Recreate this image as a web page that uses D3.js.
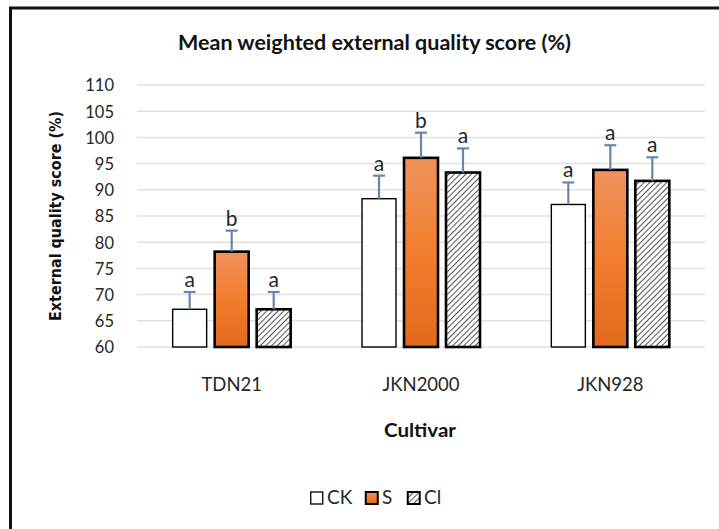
<!DOCTYPE html>
<html><head><meta charset="utf-8">
<script src="https://cdn.jsdelivr.net/npm/d3@7"></script>
<style>body{margin:0;background:#fff}svg{display:block}</style>
</head><body>
<svg id="c" width="719" height="529"></svg>
<script>
const cultivars = ["TDN21", "JKN2000", "JKN928"];
const seriesNames = ["CK", "S", "Cl"];
const ckValues = [67.2, 88.3, 87.2];
const sValues = [78.2, 96.1, 93.8];
const clValues = [67.2, 93.3, 91.7];
const ckErrors = [3.3, 4.4, 4.2];
const sErrors = [4.0, 4.8, 4.7];
const clErrors = [3.3, 4.6, 4.5];
const ckLetters = ["a", "a", "a"];
const sLetters = ["b", "b", "a"];
const clLetters = ["a", "a", "a"];
const yTicks = [60, 65, 70, 75, 80, 85, 90, 95, 100, 105, 110];

const rows = [];
cultivars.forEach((c, i) => {
  rows.push({c, s: "CK", v: ckValues[i], e: ckErrors[i], l: ckLetters[i]});
  rows.push({c, s: "S", v: sValues[i], e: sErrors[i], l: sLetters[i]});
  rows.push({c, s: "Cl", v: clValues[i], e: clErrors[i], l: clLetters[i]});
});

const svg = d3.select("#c");
const defs = svg.append("defs");
const grad = defs.append("linearGradient").attr("id", "og").attr("x1", 0).attr("y1", 0).attr("x2", 0).attr("y2", 1);
grad.append("stop").attr("offset", "0%").attr("stop-color", "#f0925c");
grad.append("stop").attr("offset", "50%").attr("stop-color", "#f17e2e");
grad.append("stop").attr("offset", "100%").attr("stop-color", "#e2691c");
const pat = defs.append("pattern").attr("id", "hatch").attr("patternUnits", "userSpaceOnUse")
  .attr("width", 4).attr("height", 4).attr("patternTransform", "rotate(45)");
pat.append("rect").attr("width", 4).attr("height", 4).attr("fill", "#fff");
pat.append("line").attr("x1", 0).attr("y1", 0).attr("x2", 0).attr("y2", 4)
  .attr("stroke", "#333").attr("stroke-width", 1.7);

const x0 = d3.scaleBand().domain(cultivars).range([137, 705]).padding(0);
const x1 = d3.scaleBand().domain(seriesNames).range([0, 126]).paddingInner(8/42).paddingOuter(4/42);
const y = d3.scaleLinear().domain([60, 110]).range([347, 85]);

// border
svg.append("path").attr("d", "M10.5,529 V8 H719").attr("fill", "none").attr("stroke", "#111").attr("stroke-width", 3);

// gridlines
svg.append("g").selectAll("line").data(yTicks).join("line")
  .attr("x1", 137).attr("x2", 705).attr("y1", d => y(d)).attr("y2", d => y(d))
  .attr("stroke", "#dde1e6").attr("stroke-width", 1.5);

// y axis labels
const yAxis = d3.axisLeft(y).tickValues(yTicks).tickSize(0).tickPadding(0);
const ga = svg.append("g").attr("transform", "translate(114,0)").call(yAxis);
ga.select(".domain").remove();
ga.selectAll("text").attr("font-family", "Lato").attr("font-size", 16.5).attr("fill", "#262626").attr("dy", "0.36em");

// x axis labels
const xAxis = d3.axisBottom(x0).tickSize(0).tickPadding(0);
const gx = svg.append("g").attr("transform", "translate(0,391)").call(xAxis);
gx.select(".domain").remove();
gx.selectAll("text").attr("font-family", "Lato").attr("font-size", 18.5).attr("fill", "#262626").attr("dy", 0);

const fillFor = s => s === "CK" ? "#fff" : s === "S" ? "url(#og)" : "url(#hatch)";
const bx = d => x0(d.c) + x0.bandwidth()/2 - 63 + x1(d.s);

const bars = svg.append("g");
bars.selectAll("rect").data(rows).join("rect")
  .attr("x", bx).attr("width", x1.bandwidth())
  .attr("y", d => y(d.v)).attr("height", d => y(60) - y(d.v))
  .attr("fill", d => fillFor(d.s))
  .attr("stroke", "#000").attr("stroke-width", d => d.s === "CK" ? 1.4 : 2.6);

// error bars
const eg = svg.append("g").attr("stroke", "#6786ab").attr("stroke-width", 2.2);
eg.selectAll("line.v").data(rows).join("line").attr("class", "v")
  .attr("x1", d => bx(d) + x1.bandwidth()/2).attr("x2", d => bx(d) + x1.bandwidth()/2)
  .attr("y1", d => y(d.v)).attr("y2", d => y(d.v + d.e));
eg.selectAll("line.h").data(rows).join("line").attr("class", "h")
  .attr("x1", d => bx(d) + x1.bandwidth()/2 - 6).attr("x2", d => bx(d) + x1.bandwidth()/2 + 6)
  .attr("y1", d => y(d.v + d.e)).attr("y2", d => y(d.v + d.e));

// letters
svg.append("g").selectAll("text").data(rows).join("text")
  .attr("x", d => bx(d) + x1.bandwidth()/2).attr("y", d => y(d.v + d.e) - 5)
  .attr("text-anchor", "middle").attr("font-family", "Lato").attr("font-size", 21).attr("fill", "#262626")
  .text(d => d.l);

// titles
svg.append("text").attr("x", 374.5).attr("y", 50).attr("text-anchor", "middle")
  .attr("font-family", "Lato").attr("font-weight", "bold").attr("font-size", 21).attr("fill", "#111")
  .attr("textLength", 393).attr("lengthAdjust", "spacingAndGlyphs")
  .text("Mean weighted external quality score (%)");
svg.append("text").attr("transform", "translate(61,216) rotate(-90)").attr("text-anchor", "middle")
  .attr("font-family", "DejaVu Sans").attr("font-weight", "bold").attr("font-size", 16).attr("fill", "#111")
  .attr("textLength", 210).attr("lengthAdjust", "spacingAndGlyphs")
  .text("External quality score (%)");
svg.append("text").attr("x", 420).attr("y", 437).attr("text-anchor", "middle")
  .attr("font-family", "Lato").attr("font-weight", "bold").attr("font-size", 19.5).attr("fill", "#111")
  .attr("textLength", 72).attr("lengthAdjust", "spacingAndGlyphs")
  .text("Cultivar");

// legend
const legendX = [310, 365, 407];
const lg = svg.append("g");
seriesNames.forEach((s, i) => {
  lg.append("rect").attr("x", legendX[i] + 0.75).attr("y", 492).attr("width", 12).attr("height", 12)
    .attr("fill", fillFor(s)).attr("stroke", "#000").attr("stroke-width", s === "CK" ? 1.3 : 2);
  lg.append("text").attr("x", legendX[i] + 17).attr("y", 504)
    .attr("font-family", "Lato").attr("font-size", 19).attr("fill", "#262626").text(s);
});
</script>
</body></html>
